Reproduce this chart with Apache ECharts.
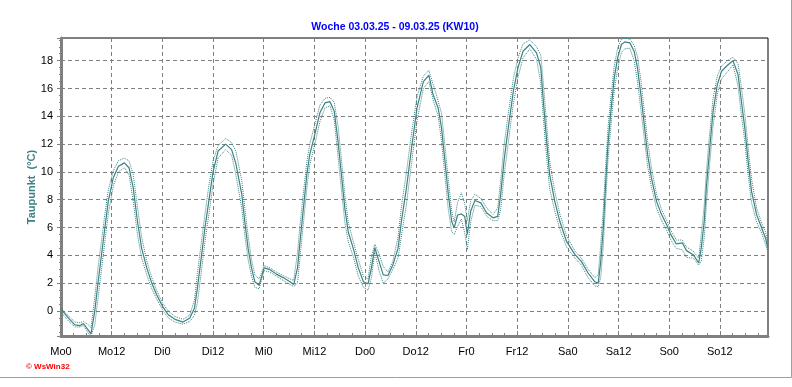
<!DOCTYPE html>
<html>
<head>
<meta charset="utf-8">
<script src="https://cdn.jsdelivr.net/npm/echarts@6/dist/echarts.min.js"></script>
<style>
    html, body { margin: 0; padding: 0; background: #fff; }
    #taupunkt_chart { width: 792px; height: 387px; }
</style>
</head>
<body>
<div id="taupunkt_chart"></div>
<script>

    //============ data (hours since Mo 0:00, Taupunkt in °C)

    var hours = [0, 1.7, 3.3, 4.5, 5.3, 6.5, 7.1, 8.0, 8.8, 9.6, 10.4, 11.2, 12.4, 13.6, 15.0, 16.1, 17.1, 18.1, 19.1, 20.3,
        21.5, 22.6, 24.0, 25.4, 27.0, 28.9, 30.5, 31.6, 32.3, 33.3, 34.1, 35.0, 36.0, 37.2, 39.0, 40.4, 41.4, 42.8, 43.5, 44.3,
        45.1, 45.9, 46.9, 48.1, 49.5, 51.0, 52.6, 54.2, 55.1, 56.0, 56.6, 57.4, 58.2, 58.9, 60.1, 61.3, 62.5, 63.7, 64.7, 65.6,
        66.4, 67.2, 68.0, 69.2, 70.4, 71.6, 72.7, 73.5, 74.3, 75.3, 76.3, 77.4, 78.6, 79.8, 80.6, 81.8, 83.0, 84.3, 85.8, 87.1,
        88.1, 89.3, 90.1, 90.9, 91.7, 92.5, 93.1, 93.9, 94.8, 95.6, 96.2, 97.0, 98.0, 99.4, 100.8, 102.3, 103.4, 104.1, 104.9, 105.9,
        107.1, 108.2, 109.4, 111.0, 112.6, 113.6, 114.2, 115.0, 115.7, 116.9, 118.1, 119.7, 121.7, 123.2, 124.8, 126.4, 127.2, 127.8, 128.4, 128.9,
        129.5, 130.2, 131.0, 131.8, 132.7, 133.5, 134.7, 135.7, 136.5, 137.3, 138.1, 138.9, 139.8, 141.0, 142.2, 143.4, 144.4, 145.7, 147.1, 148.1,
        149.7, 151.0, 151.6, 152.3, 152.8, 153.6, 154.4, 155.4, 156.4, 157.8, 159.1, 160.3, 161.1, 161.9, 162.7, 163.5, 164.7, 165.9, 166.8, 167.3];

    var taupunkt = [0.15, -0.5, -1.0, -1.05, -0.9, -1.4, -1.65, 0.0, 2.1, 4.05, 6.0, 7.9, 9.6, 10.4, 10.65, 10.3, 8.85, 6.45, 4.5, 3.1,
        2.0, 1.2, 0.35, -0.27, -0.6, -0.8, -0.5, 0.2, 1.65, 4.05, 6.0, 7.9, 10.0, 11.5, 12.0, 11.6, 10.6, 8.4, 6.45, 4.5,
        3.1, 2.1, 1.85, 3.1, 2.97, 2.65, 2.4, 2.1, 1.9, 3.1, 5.0, 7.4, 9.8, 11.25, 12.7, 14.25, 14.96, 15.05, 14.36, 12.2,
        9.8, 7.4, 5.7, 4.5, 3.1, 2.1, 1.95, 3.1, 4.55, 3.57, 2.6, 2.55, 3.33, 4.5, 6.45, 8.85, 11.7, 14.6, 16.5, 16.95,
        15.56, 14.6, 13.17, 10.8, 8.4, 6.45, 5.97, 6.9, 6.98, 6.8, 5.5, 7.17, 7.94, 7.77, 7.05, 6.7, 6.8, 8.37, 10.8, 13.17,
        15.8, 17.5, 18.68, 19.16, 18.56, 17.5, 15.1, 12.2, 9.8, 7.9, 6.45, 5.0, 4.05, 3.57, 2.73, 2.1, 2.0, 3.57, 5.97, 8.85,
        11.96, 14.36, 16.76, 18.2, 19.16, 19.35, 19.28, 18.68, 17.48, 15.56, 13.4, 11.25, 9.57, 7.88, 6.93, 6.2, 5.49, 4.82, 4.9, 4.34,
        4.05, 3.45, 4.53, 6.45, 8.85, 11.7, 14.36, 16.28, 17.24, 17.67, 18.0, 17.0, 15.08, 13.17, 10.76, 8.6, 6.93, 5.97, 5.25, 4.6];

    var taupunktMax = [0.2, -0.35, -0.8, -0.85, -0.75, -1.0, -1.2, 1.0, 3.2, 5.1, 7.0, 8.7, 10.1, 10.8, 11.0, 10.8, 9.8, 7.5, 5.3, 3.6,
        2.4, 1.5, 0.6, 0.0, -0.4, -0.6, -0.3, 0.8, 2.7, 5.1, 7.0, 9.0, 10.8, 11.9, 12.4, 12.1, 11.5, 9.4, 7.5, 5.4,
        3.7, 2.6, 2.3, 3.25, 3.1, 2.8, 2.55, 2.3, 2.2, 4.2, 6.2, 8.5, 10.7, 12.0, 13.4, 14.8, 15.3, 15.35, 15.0, 13.3,
        10.9, 8.4, 6.4, 5.0, 3.7, 2.5, 2.3, 3.9, 4.8, 4.1, 3.2, 2.8, 3.6, 5.3, 7.5, 10.0, 12.8, 15.4, 16.9, 17.3,
        16.3, 15.1, 14.2, 11.9, 9.5, 7.2, 6.4, 7.8, 8.5, 7.7, 6.5, 7.9, 8.4, 8.1, 7.4, 6.95, 7.4, 9.4, 11.9, 14.2,
        16.7, 18.2, 19.2, 19.5, 19.0, 18.4, 16.4, 13.4, 10.8, 8.6, 7.0, 5.4, 4.3, 3.8, 3.0, 2.4, 2.6, 4.8, 7.3, 10.1,
        13.1, 15.4, 17.6, 18.9, 19.55, 19.62, 19.55, 19.1, 18.3, 16.6, 14.4, 12.2, 10.3, 8.4, 7.3, 6.5, 5.8, 5.1, 5.1, 4.6,
        4.3, 3.8, 5.5, 7.6, 10.0, 12.8, 15.3, 16.9, 17.6, 18.0, 18.25, 17.8, 16.1, 14.2, 11.8, 9.5, 7.4, 6.3, 5.7, 5.0];

    var taupunktMin = [-0.1, -0.7, -1.15, -1.15, -1.05, -1.6, -1.8, -1.0, 1.0, 3.0, 5.0, 7.0, 9.0, 10.0, 10.3, 9.8, 7.9, 5.5, 3.8, 2.6,
        1.6, 0.9, 0.1, -0.5, -0.8, -0.95, -0.75, -0.3, 0.6, 3.0, 5.0, 6.9, 9.1, 11.0, 11.6, 11.2, 9.8, 7.4, 5.5, 3.7,
        2.5, 1.7, 1.6, 2.9, 2.8, 2.5, 2.2, 1.9, 1.75, 2.0, 3.9, 6.3, 8.8, 10.5, 12.0, 13.6, 14.6, 14.75, 13.7, 11.1,
        8.7, 6.4, 5.0, 3.9, 2.5, 1.7, 1.5, 2.4, 4.2, 2.9, 2.0, 2.3, 3.0, 3.8, 5.4, 7.7, 10.6, 13.7, 16.0, 16.5,
        15.2, 14.0, 12.2, 9.7, 7.3, 5.7, 5.5, 6.1, 6.6, 5.6, 4.4, 6.4, 7.6, 7.5, 6.8, 6.5, 6.5, 7.3, 9.7, 12.1,
        14.9, 16.8, 18.2, 18.85, 18.1, 16.4, 13.9, 11.0, 8.8, 7.2, 5.9, 4.6, 3.8, 3.3, 2.4, 1.8, 1.75, 2.4, 4.7, 7.5,
        10.8, 13.3, 15.9, 17.4, 18.6, 18.85, 18.9, 18.0, 16.5, 14.5, 12.4, 10.4, 8.9, 7.4, 6.5, 5.8, 5.1, 4.5, 4.4, 3.85,
        3.8, 3.3, 3.6, 5.3, 7.6, 10.6, 13.3, 15.6, 16.7, 17.2, 17.7, 16.2, 14.1, 12.2, 9.8, 7.8, 6.4, 5.6, 4.8, 4.3];

    var xLabels = ['Mo0', 'Mo12', 'Di0', 'Di12', 'Mi0', 'Mi12', 'Do0', 'Do12', 'Fr0', 'Fr12', 'Sa0', 'Sa12', 'So0', 'So12'];

    //============

    var myChart = echarts.init(document.getElementById('taupunkt_chart'));
    var lineColor = '#3d8282';
    var fontName = 'Liberation Sans, Arial, sans-serif';

    function pairs(vals) {
        var out = [];
        for (var i = 0; i < hours.length; i++) {
            out.push([hours[i], vals[i]]);
        }
        return out;
    }

    var option = {
        animation: false,
        backgroundColor: '#ffffff',
        title: {
            text: 'Woche 03.03.25 - 09.03.25 (KW10)',
            left: 390,
            textAlign: 'center',
            top: 17,
            textStyle: { color: '#0000ff', fontSize: 10.5, fontWeight: 'bold', fontFamily: fontName }
        },
        grid: {
            left: 61,
            right: 24,
            top: 38,
            bottom: 51,
            show: true,
            borderColor: '#000',
            borderWidth: 1
        },
        xAxis: {
            type: 'value',
            min: 0,
            max: 167.4,
            interval: 12,
            axisLine: { onZero: false, lineStyle: { color: '#808080', width: 3 } },
            axisTick: { inside: true, length: 5, lineStyle: { color: '#808080' } },
            minorTick: { show: true, splitNumber: 4, length: 3, lineStyle: { color: '#808080' } },
            axisLabel: {
                color: '#000', fontSize: 11, fontFamily: fontName, margin: 10,
                showMaxLabel: false,
                formatter: function (v) {
                    return xLabels[Math.round(v / 12)] || '';
                }
            },
            splitLine: { show: true, lineStyle: { color: '#808080', type: [4, 3] } }
        },
        yAxis: {
            type: 'value',
            min: -1.8,
            max: 19.63,
            splitNumber: 10,
            minInterval: 2,
            maxInterval: 2,
            name: 'Taupunkt  (°C)',
            nameLocation: 'middle',
            nameGap: 24,
            nameMoveOverlap: false,
            nameTextStyle: { color: lineColor, fontSize: 11, fontWeight: 'bold', fontFamily: fontName },
            axisLine: { show: true, onZero: false, lineStyle: { color: '#808080', width: 3 } },
            axisTick: { show: true, length: 4, lineStyle: { color: '#808080' } },
            minorTick: { show: true, splitNumber: 4, length: 2, lineStyle: { color: '#808080' } },
            axisLabel: {
                color: '#000', fontSize: 11, fontFamily: fontName, margin: 8,
                showMinLabel: false,
                showMaxLabel: false
            },
            splitLine: { show: true, lineStyle: { color: '#808080', type: [4, 3] } }
        },
        series: [
            {
                name: 'max',
                type: 'line',
                symbol: 'none',
                data: pairs(taupunktMax),
                lineStyle: { color: lineColor, width: 1, type: 'dotted' }
            },
            {
                name: 'min',
                type: 'line',
                symbol: 'none',
                data: pairs(taupunktMin),
                lineStyle: { color: lineColor, width: 1, type: 'dotted' }
            },
            {
                name: 'Taupunkt',
                type: 'line',
                symbol: 'none',
                data: pairs(taupunkt),
                lineStyle: { color: lineColor, width: 1.2 }
            }
        ],
        graphic: [
            {
                type: 'text',
                left: 26,
                top: 363,
                style: { text: '© WsWin32', fill: '#ff0000', font: 'bold 8px ' + fontName }
            },
            {
                type: 'line',
                shape: { x1: 0, y1: 377.5, x2: 791.5, y2: 377.5 },
                style: { stroke: '#a0a0a0', lineWidth: 1 }
            },
            {
                type: 'line',
                shape: { x1: 791.5, y1: 0, x2: 791.5, y2: 377.5 },
                style: { stroke: '#a0a0a0', lineWidth: 1 }
            }
        ]
    };

    myChart.setOption(option);

</script>
</body>
</html>
